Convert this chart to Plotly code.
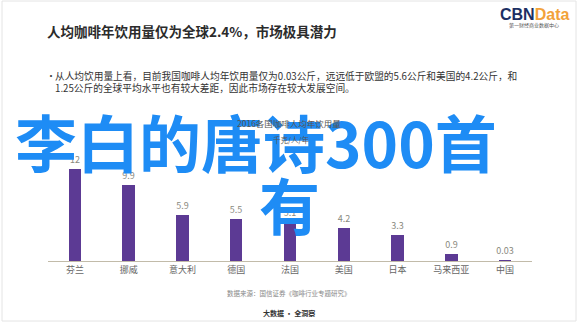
import plotly.graph_objects as go

countries = ["芬兰", "挪威", "意大利", "德国", "法国", "美国", "日本", "马来西亚", "中国"]
values = [12, 9.9, 5.9, 5.5, 5.1, 4.2, 3.3, 0.9, 0.03]
value_labels = ["12", "9.9", "5.9", "5.5", "5.1", "4.2", "3.3", "0.9", "0.03"]

W, H = 580, 325
CJK = "Noto Sans CJK SC"

def px(x):
    return x / W

def py(y):
    return 1 - y / H

fig = go.Figure()
fig.add_trace(go.Bar(
    x=countries, y=values, width=0.23,
    marker=dict(color="#5c3a94", line=dict(width=0)),
    text=value_labels, textposition="outside", cliponaxis=False,
    textfont=dict(family=CJK, size=9, color="#8a8a80"),
))

annotations = [
    dict(x=px(13), y=py(141), text="<b>李白的唐诗300首</b>", xanchor="left", yanchor="middle",
         font=dict(family=CJK, size=62, color="#1e8cf5")),
    dict(x=px(289), y=py(203), text="<b>有</b>", xanchor="center", yanchor="middle",
         font=dict(family=CJK, size=61, color="#1e8cf5")),
    dict(x=px(45), y=py(31), text="<b>人均咖啡年饮用量仅为全球2.4%，市场极具潜力</b>",
         xanchor="left", yanchor="middle", font=dict(family=CJK, size=13.5, color="#2b2b2b")),
    dict(x=px(44), y=py(76), text="•", xanchor="left", yanchor="middle",
         font=dict(family=CJK, size=10, color="#444")),
    dict(x=px(53), y=py(76), text="从人均饮用量上看，目前我国咖啡人均年饮用量仅为0.03公斤，远远低于欧盟的5.6公斤和美国的4.2公斤，和",
         xanchor="left", yanchor="middle", font=dict(family=CJK, size=9.7, color="#333")),
    dict(x=px(53), y=py(88), text="1.25公斤的全球平均水平也有较大差距，因此市场存在较大发展空间。",
         xanchor="left", yanchor="middle", font=dict(family=CJK, size=9.7, color="#333")),
    dict(x=px(289), y=py(123), text="2016各国咖啡人均年饮用量", xanchor="center", yanchor="middle",
         font=dict(family=CJK, size=8.5, color="#555")),
    dict(x=px(291), y=py(139), text="千克/人/年", xanchor="center", yanchor="middle",
         font=dict(family=CJK, size=7.5, color="#555")),
    dict(x=px(289), y=py(293), text="数据来源：国信证券《咖啡行业专题研究》", xanchor="center", yanchor="middle",
         font=dict(family=CJK, size=6.5, color="#888")),
    dict(x=px(289), y=py(313), text="<b>大数据 · 全洞察</b>", xanchor="center", yanchor="middle",
         font=dict(family=CJK, size=7, color="#333")),
    dict(x=px(534), y=py(14), text="<b><span style='color:#1c2f63'>CBN</span><span style='color:#f2a23a'>Data</span></b>",
         xanchor="center", yanchor="middle", font=dict(family="Liberation Sans", size=16)),
    dict(x=px(534), y=py(25), text="第一财经商业数据中心", xanchor="center", yanchor="middle",
         font=dict(family=CJK, size=5, color="#555")),
]
for a in annotations:
    a.update(xref="paper", yref="paper", showarrow=False)

fig.update_layout(
    width=W, height=H,
    margin=dict(l=0, r=0, t=0, b=0),
    paper_bgcolor="white", plot_bgcolor="rgba(0,0,0,0)",
    showlegend=False,
    annotations=annotations,
    uniformtext=dict(minsize=9, mode="show"),
    shapes=[dict(type="rect", xref="paper", yref="paper", x0=px(2), x1=px(576), y0=py(321), y1=py(1),
                 line=dict(color="#e4e4e4", width=1), fillcolor="rgba(0,0,0,0)", layer="below")],
    xaxis=dict(domain=[px(48), px(532)], range=[-0.5, 8.5], showline=True, linecolor="#c2bba9",
               linewidth=1, ticks="", showgrid=False, zeroline=False,
               tickfont=dict(family=CJK, size=9, color="#666"), fixedrange=True),
    yaxis=dict(domain=[py(261), py(161.3)], range=[0, 13], visible=False, showgrid=False, zeroline=False),
    bargap=0,
)

fig.write_html("out.html")
